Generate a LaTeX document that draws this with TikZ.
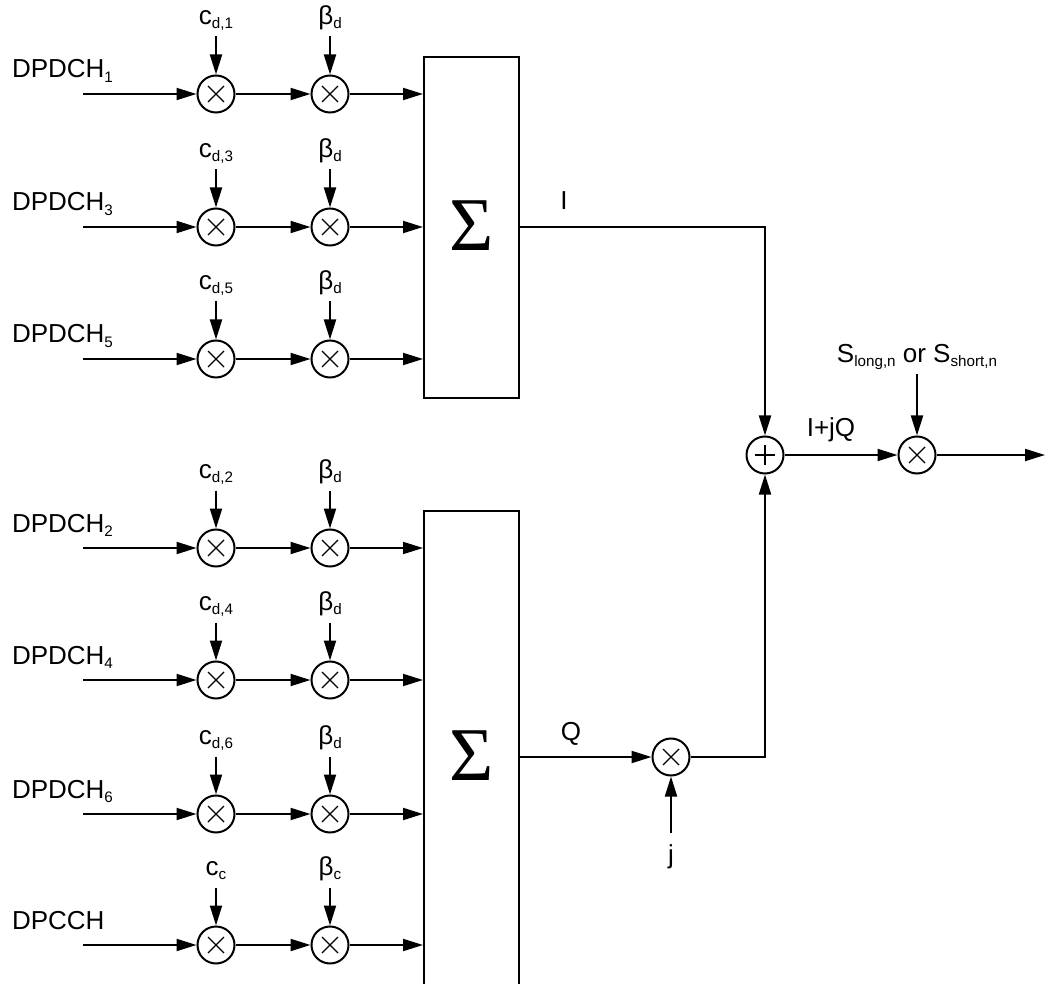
\documentclass[tikz,border=0pt]{standalone}
\usepackage{fontspec}
\setmainfont{Liberation Sans}
\newfontfamily\sigmafont{Liberation Serif}
\usetikzlibrary{positioning,arrows.meta}

\newcommand{\lo}[1]{\raisebox{-0.3ex}{\fontsize{7.6}{8}\selectfont #1}}

\tikzset{
  mult/.style={circle,draw,line width=1pt,minimum size=18.5pt,inner sep=0pt,
    path picture={\draw[line width=0.7pt] (path picture bounding box.center)
      ++(-4pt,-4pt) -- ++(8pt,8pt) ++(-8pt,0pt) -- ++(8pt,-8pt);}},
  adder/.style={circle,draw,line width=1pt,minimum size=18.5pt,inner sep=0pt,
    path picture={\draw[line width=0.7pt] (path picture bounding box.center)
      ++(-5pt,0pt) -- ++(10pt,0pt) ++(-5pt,-5pt) -- ++(0pt,10pt);}},
  sumbox/.style={draw,line width=1pt,minimum width=47.5pt,inner sep=0pt,
    font=\sigmafont\fontsize{38}{40}\selectfont},
  sig/.style={inner sep=0pt,outer sep=6pt,text depth=0pt},
  chan/.style={inner sep=0pt,anchor=base west}
}

\begin{document}
\begin{tikzpicture}[x=0.5pt,y=-0.5pt,node distance=19pt and 37.5pt,
  line width=1pt,>={Triangle[length=10pt,width=6pt]},
  font=\fontsize{13}{15}\selectfont]
  \useasboundingbox (0,0) rectangle (1045,984);

  % Summierer
  \node[sumbox,minimum height=170.5pt] (sumI) at (471.5,227.5) {\raisebox{1.5pt}{Σ}};
  \node[sumbox,minimum height=246pt] (sumQ) at (471.5,757) {\raisebox{1.5pt}{Σ}};

  % DPDCH1
  \coordinate (in1) at (83,94);
  \node[chan] (d1) at (11,78) {DPDCH\lo{1}};
  \node[mult] (m1a) at (216,94) {};
  \node[mult,right=of m1a] (m1b) {};
  \node[sig,above=of m1a] (c1) {c\lo{d,1}};
  \node[sig,above=of m1b] (b1) {β\lo{d}};

  % DPDCH3
  \coordinate (in3) at (83,227);
  \node[chan] (d3) at (11,211) {DPDCH\lo{3}};
  \node[mult] (m3a) at (216,227) {};
  \node[mult,right=of m3a] (m3b) {};
  \node[sig,above=of m3a] (c3) {c\lo{d,3}};
  \node[sig,above=of m3b] (b3) {β\lo{d}};

  % DPDCH5
  \coordinate (in5) at (83,359);
  \node[chan] (d5) at (11,343) {DPDCH\lo{5}};
  \node[mult] (m5a) at (216,359) {};
  \node[mult,right=of m5a] (m5b) {};
  \node[sig,above=of m5a] (c5) {c\lo{d,5}};
  \node[sig,above=of m5b] (b5) {β\lo{d}};

  % DPDCH2
  \coordinate (in2) at (83,548);
  \node[chan] (d2) at (11,532) {DPDCH\lo{2}};
  \node[mult] (m2a) at (216,548) {};
  \node[mult,right=of m2a] (m2b) {};
  \node[sig,above=of m2a] (c2) {c\lo{d,2}};
  \node[sig,above=of m2b] (b2) {β\lo{d}};

  % DPDCH4
  \coordinate (in4) at (83,680);
  \node[chan] (d4) at (11,664) {DPDCH\lo{4}};
  \node[mult] (m4a) at (216,680) {};
  \node[mult,right=of m4a] (m4b) {};
  \node[sig,above=of m4a] (c4) {c\lo{d,4}};
  \node[sig,above=of m4b] (b4) {β\lo{d}};

  % DPDCH6
  \coordinate (in6) at (83,814);
  \node[chan] (d6) at (11,798) {DPDCH\lo{6}};
  \node[mult] (m6a) at (216,814) {};
  \node[mult,right=of m6a] (m6b) {};
  \node[sig,above=of m6a] (c6) {c\lo{d,6}};
  \node[sig,above=of m6b] (b6) {β\lo{d}};

  % DPCCH
  \coordinate (inc) at (83,945);
  \node[chan] (dc) at (11,929) {DPCCH};
  \node[mult] (mca) at (216,945) {};
  \node[mult,right=of mca] (mcb) {};
  \node[sig,above=of mca] (cc) {c\lo{c}};
  \node[sig,above=of mcb] (bc) {β\lo{c}};

  % Ausgang
  \node[mult] (jm) at (671,757) {};
  \node[sig,below=28pt of jm] (jlab) {j};
  \node[adder] (add) at (765,455) {};
  \node[mult] (om) at (917,455) {};
  \node[sig,above=30.5pt of om] (slab) {S\lo{long,n} or S\lo{short,n}};
  \coordinate (out) at (1045,455);
  \node[sig,anchor=base] (ilab) at (564,210) {I};
  \node[sig,anchor=base] (qlab) at (571,740) {Q};
  \node[sig,anchor=base] (iqlab) at (831,437) {I+jQ};

  % Verbindungen
  \path[->]
    (in1) edge (m1a) (m1a) edge (m1b) (c1) edge (m1a) (b1) edge (m1b)
    (in3) edge (m3a) (m3a) edge (m3b) (c3) edge (m3a) (b3) edge (m3b)
    (in5) edge (m5a) (m5a) edge (m5b) (c5) edge (m5a) (b5) edge (m5b)
    (in2) edge (m2a) (m2a) edge (m2b) (c2) edge (m2a) (b2) edge (m2b)
    (in4) edge (m4a) (m4a) edge (m4b) (c4) edge (m4a) (b4) edge (m4b)
    (in6) edge (m6a) (m6a) edge (m6b) (c6) edge (m6a) (b6) edge (m6b)
    (inc) edge (mca) (mca) edge (mcb) (cc) edge (mca) (bc) edge (mcb);

  \draw[->] (m1b) -- (m1b -| sumI.west);
  \draw[->] (m3b) -- (m3b -| sumI.west);
  \draw[->] (m5b) -- (m5b -| sumI.west);
  \draw[->] (m2b) -- (m2b -| sumQ.west);
  \draw[->] (m4b) -- (m4b -| sumQ.west);
  \draw[->] (m6b) -- (m6b -| sumQ.west);
  \draw[->] (mcb) -- (mcb -| sumQ.west);

  \draw[->] (sumI.east) -| (add);
  \draw[->] (sumQ) -- (jm);
  \draw[->] (jm) -| (add);
  \draw[->] (jlab) -- (jm);
  \draw[->] (add) -- (om);
  \draw[->] (slab) -- (om);
  \draw[->] (om) -- (out);

\end{tikzpicture}
\end{document}
